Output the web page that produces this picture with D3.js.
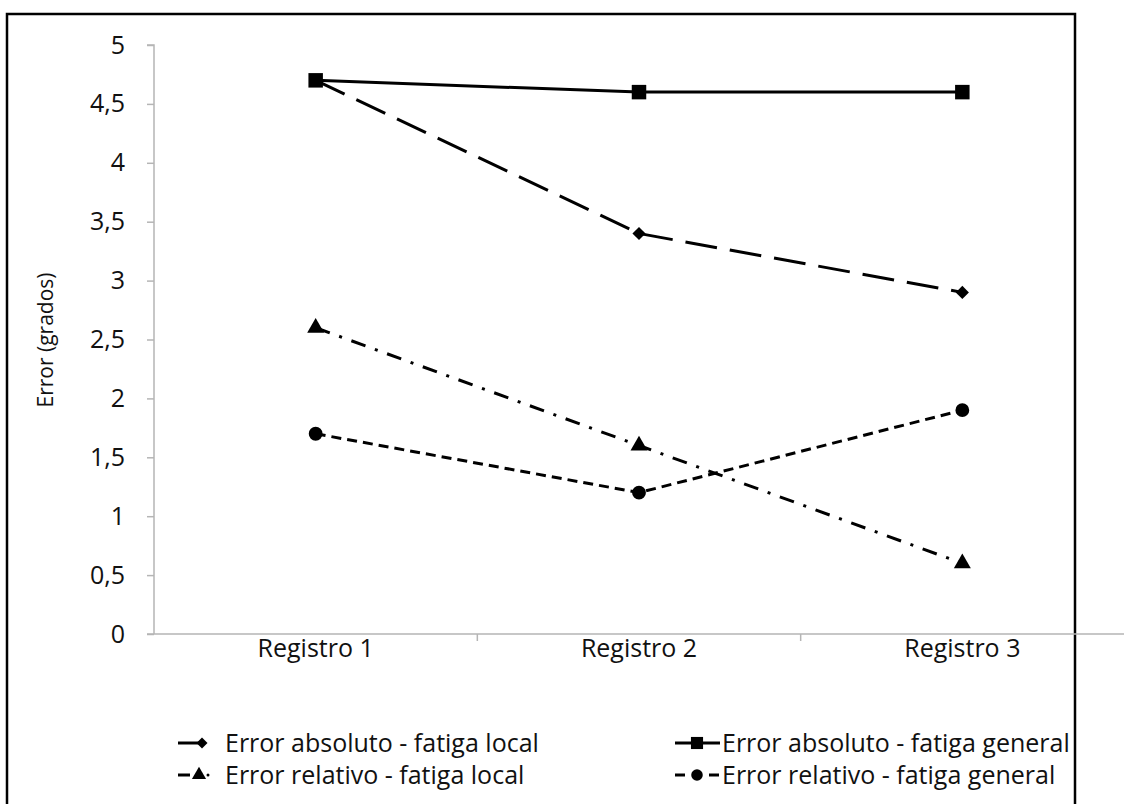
<!DOCTYPE html>
<html>
<head>
<meta charset="utf-8">
<script src="https://cdn.jsdelivr.net/npm/d3@7"></script>
<style>
  body { margin: 0; background: #fff; }
  text { font-family: "Open Sans", "Noto Sans", sans-serif; fill: #111; }
</style>
</head>
<body>
<script>
// data
const categories = ["Registro 1", "Registro 2", "Registro 3"];
const absLocal = [4.7, 3.4, 2.9];
const absGeneral = [4.7, 4.6, 4.6];
const relLocal = [2.6, 1.6, 0.6];
const relGeneral = [1.7, 1.2, 1.9];
const seriesNames = [
  "Error absoluto - fatiga local",
  "Error absoluto - fatiga general",
  "Error relativo - fatiga local",
  "Error relativo - fatiga general"
];
const yTicks = [0, 0.5, 1, 1.5, 2, 2.5, 3, 3.5, 4, 4.5, 5];

function main() {
  const W = 1131, H = 804;
  const svg = d3.select("body").append("svg")
    .attr("width", W).attr("height", H);

  // outer frame
  svg.append("rect")
    .attr("x", 7).attr("y", 14)
    .attr("width", 1068).attr("height", 830)
    .attr("fill", "none").attr("stroke", "#000").attr("stroke-width", 2.5);

  const left = 154, right = 1124, top = 45, bottom = 634;

  const x = d3.scaleBand().domain(categories).range([left, right]);
  const y = d3.scaleLinear().domain([0, 5]).range([bottom, top]);

  // y axis
  const yAxis = svg.append("g")
    .attr("transform", "translate(" + left + ",0)")
    .call(d3.axisLeft(y).tickValues(yTicks).tickSize(7).tickPadding(22)
      .tickFormat(d => String(d).replace(".", ",")));
  yAxis.selectAll("path, line").attr("stroke", "#b5b5b5").attr("stroke-width", 1.5);
  yAxis.select(".domain").attr("d", "M0," + bottom + "V" + top + "H-7");
  yAxis.selectAll("text").attr("font-size", 25).attr("font-family", "Open Sans").attr("fill", "#111");

  // x axis
  const xAxis = svg.append("g")
    .attr("transform", "translate(0," + bottom + ")")
    .call(d3.axisBottom(x).tickSize(0));
  xAxis.select(".domain").attr("d", "M" + (left - 7) + ",0H" + right)
    .attr("stroke", "#b5b5b5").attr("stroke-width", 1.5);
  xAxis.selectAll("text").attr("font-size", 25).attr("font-family", "Open Sans")
    .attr("fill", "#111").attr("y", 14).attr("dy", "0.35em");
  // tick marks between categories
  xAxis.selectAll(".sep")
    .data(categories.slice(1))
    .join("line")
    .attr("x1", d => x(d)).attr("x2", d => x(d))
    .attr("y1", 0).attr("y2", 7)
    .attr("stroke", "#b5b5b5").attr("stroke-width", 1.5);

  // y label
  svg.append("text")
    .attr("transform", "translate(46," + 340 + ") rotate(-90)")
    .attr("text-anchor", "middle")
    .attr("dy", "0.35em")
    .attr("font-size", 21)
    .text("Error (grados)");

  const series = [
    { name: seriesNames[0], values: absLocal, dash: "32,13", symbol: d3.symbolDiamond2, size: 110 },
    { name: seriesNames[1], values: absGeneral, dash: null, symbol: d3.symbolSquare, size: 210 },
    { name: seriesNames[2], values: relLocal, dash: "15,10,3,10", symbol: d3.symbolTriangle, size: 125 },
    { name: seriesNames[3], values: relGeneral, dash: "10,6", symbol: d3.symbolCircle, size: 150 }
  ];

  const line = d3.line()
    .x((d, i) => x(categories[i]) + x.bandwidth() / 2)
    .y(d => y(d));

  series.forEach(s => {
    svg.append("path")
      .datum(s.values)
      .attr("fill", "none")
      .attr("stroke", "#000")
      .attr("stroke-width", 3)
      .attr("stroke-dasharray", s.dash)
      .attr("d", line);
  });
  series.forEach(s => {
    svg.selectAll(null)
      .data(s.values)
      .join("path")
      .attr("transform", (d, i) => "translate(" + (x(categories[i]) + x.bandwidth() / 2) + "," + y(d) + ")")
      .attr("d", d3.symbol().type(s.symbol).size(s.size))
      .attr("fill", "#000");
  });

  // legend
  const legendPos = [
    { lx: 178, mx: 202, tx: 225, ty: 743 },
    { lx: 675, mx: 697, tx: 722, ty: 743 },
    { lx: 178, mx: 199, tx: 225, ty: 775 },
    { lx: 675, mx: 697, tx: 722, ty: 775 }
  ];
  series.forEach((s, i) => {
    const p = legendPos[i];
    const g = svg.append("g");
    if (i === 0) {
      g.append("line").attr("x1", p.lx).attr("x2", p.mx).attr("y1", p.ty).attr("y2", p.ty)
        .attr("stroke", "#000").attr("stroke-width", 3);
    } else if (i === 1) {
      g.append("line").attr("x1", p.lx).attr("x2", 720).attr("y1", p.ty).attr("y2", p.ty)
        .attr("stroke", "#000").attr("stroke-width", 3);
    } else if (i === 2) {
      g.append("line").attr("x1", p.lx).attr("x2", 190).attr("y1", p.ty).attr("y2", p.ty)
        .attr("stroke", "#000").attr("stroke-width", 3);
      g.append("circle").attr("cx", 208).attr("cy", p.ty).attr("r", 1.5).attr("fill", "#000");
    } else {
      g.append("line").attr("x1", p.lx).attr("x2", 685).attr("y1", p.ty).attr("y2", p.ty)
        .attr("stroke", "#000").attr("stroke-width", 3);
      g.append("line").attr("x1", 709).attr("x2", 719).attr("y1", p.ty).attr("y2", p.ty)
        .attr("stroke", "#000").attr("stroke-width", 3);
    }
    g.append("path")
      .attr("transform", "translate(" + p.mx + "," + p.ty + ")")
      .attr("d", d3.symbol().type(s.symbol).size(s.size * 0.7))
      .attr("fill", "#000");
    g.append("text")
      .attr("x", p.tx).attr("y", p.ty)
      .attr("dy", "0.35em")
      .attr("font-size", 25)
      .text(s.name);
  });
}
main();
</script>
</body>
</html>
